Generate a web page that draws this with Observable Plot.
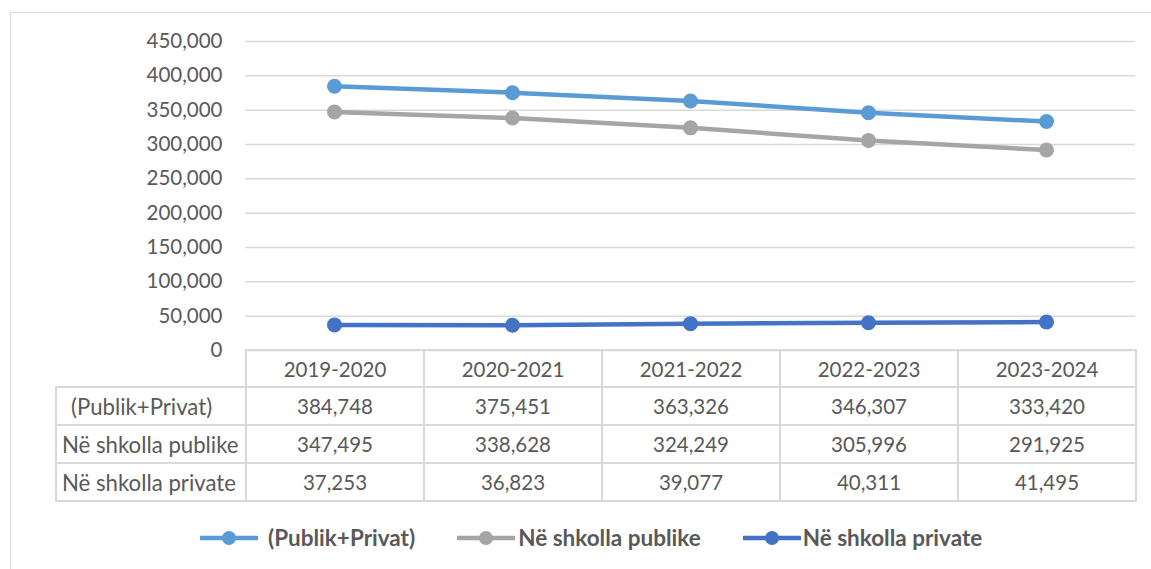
<!DOCTYPE html>
<html>
<head>
<meta charset="utf-8">
<script src="https://cdn.jsdelivr.net/npm/d3@7"></script>
<script src="https://cdn.jsdelivr.net/npm/@observablehq/plot@0.6"></script>
<style>
  html, body { margin: 0; padding: 0; background: #fff; }
  body { width: 1151px; height: 569px; overflow: hidden; position: relative; font-family: "Lato", "Open Sans", sans-serif; color: #595959; }
  #frame { position: absolute; left: 10px; top: 12px; width: 1170px; height: 600px; border: 1px solid #d9d9d9; box-sizing: border-box; }
  #chart { position: absolute; left: 0; top: 0; }
  #tbl { position: absolute; left: 55px; top: 349px; border-collapse: collapse; table-layout: fixed; font-size: 20.5px; color: #595959; }
  #tbl td { border: 2px solid #d9d9d9; text-align: center; vertical-align: middle; padding: 0; white-space: nowrap; }
  #tbl td.lab { text-align: left; padding-left: 5px; font-size: 22.2px; }
  #tbl td.lab.first { padding-left: 14px; }
  #tbl td.corner { border-top: none; border-left: none; }
  #legend { position: absolute; left: 200px; top: 524px; display: flex; align-items: center; font-size: 22.5px; font-weight: bold; color: #595959; }
  .item { display: flex; align-items: center; }
  .item svg { display: block; }
</style>
</head>
<body>
<div id="frame"></div>
<div id="chart"></div>
<table id="tbl"></table>
<div id="legend"></div>
<script>
const categories = ["2019-2020", "2020-2021", "2021-2022", "2022-2023", "2023-2024"];
const seriesNames = ["(Publik+Privat)", "Në shkolla publike", "Në shkolla private"];
const totalValues = [384748, 375451, 363326, 346307, 333420];
const publicValues = [347495, 338628, 324249, 305996, 291925];
const privateValues = [37253, 36823, 39077, 40311, 41495];
const yTicks = [0, 50000, 100000, 150000, 200000, 250000, 300000, 350000, 400000, 450000];
const colors = ["#5B9BD5", "#A5A5A5", "#4472C4"];

const seriesValues = [totalValues, publicValues, privateValues];
const data = [];
seriesNames.forEach((s, i) => categories.forEach((c, j) => data.push({series: s, cat: c, value: seriesValues[i][j]})));

const fmt = d3.format(",");

const plot = Plot.plot({
  width: 1151,
  height: 352,
  marginLeft: 245,
  marginRight: 16,
  marginTop: 41,
  marginBottom: 2,
  style: { fontFamily: "Lato, 'Open Sans', sans-serif", fontSize: "20.5px", color: "#595959", background: "transparent", overflow: "visible" },
  x: { type: "point", domain: categories, padding: 0.5, axis: null },
  y: { domain: [0, 450000] },
  color: { domain: seriesNames, range: colors },
  marks: [
    Plot.ruleY(yTicks, { stroke: "#d9d9d9", strokeWidth: 1.5 }),
    Plot.axisY(yTicks, { tickFormat: fmt, tickSize: 0, tickPadding: 23, label: null, fill: "#595959" }),
    Plot.line(data, { x: "cat", y: "value", z: "series", stroke: "series", strokeWidth: 4.5 }),
    Plot.dot(data, { x: "cat", y: "value", fill: "series", r: 7.5 })
  ]
});
document.getElementById("chart").appendChild(plot);

// data table below the plot
const tbl = document.getElementById("tbl");
const colgroup = document.createElement("colgroup");
[190, 178, 178, 178, 178, 178].forEach(w => { const c = document.createElement("col"); c.style.width = w + "px"; colgroup.appendChild(c); });
tbl.appendChild(colgroup);
const head = document.createElement("tr");
head.style.height = "37px";
const corner = document.createElement("td"); corner.className = "corner"; head.appendChild(corner);
categories.forEach(c => { const td = document.createElement("td"); td.textContent = c; head.appendChild(td); });
tbl.appendChild(head);
seriesNames.forEach((s, i) => {
  const tr = document.createElement("tr");
  tr.style.height = "38px";
  const lab = document.createElement("td"); lab.className = "lab" + (i === 0 ? " first" : ""); lab.textContent = s; tr.appendChild(lab);
  seriesValues[i].forEach(v => { const td = document.createElement("td"); td.textContent = fmt(v); tr.appendChild(td); });
  tbl.appendChild(tr);
});

// legend
const legend = document.getElementById("legend");
const gaps = [10, 3, 2];
seriesNames.forEach((s, i) => {
  const item = document.createElement("div");
  item.className = "item";
  if (i > 0) item.style.marginLeft = "42px";
  item.innerHTML = `<svg width="58" height="18"><line x1="1" y1="9" x2="57" y2="9" stroke="${colors[i]}" stroke-width="4.5" stroke-linecap="round"/><circle cx="29" cy="9" r="7" fill="${colors[i]}"/></svg>`;
  const t = document.createElement("span");
  t.textContent = s;
  t.style.marginLeft = gaps[i] + "px";
  item.appendChild(t);
  legend.appendChild(item);
});
</script>
</body>
</html>
